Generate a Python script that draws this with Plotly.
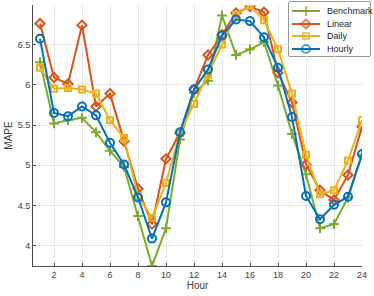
import plotly.graph_objects as go

hours = list(range(1, 25))
benchmark = [6.28, 5.52, 5.56, 5.59, 5.41, 5.18, 4.98, 4.37, 3.75, 4.22, 5.32, 5.90,
             6.05, 6.86, 6.37, 6.44, 6.53, 5.99, 5.39, 4.89, 4.22, 4.27, 4.60, 5.13]
linear = [6.76, 6.09, 6.01, 6.74, 5.73, 5.89, 5.30, 4.71, 4.27, 5.08, 5.40, 5.94,
          6.37, 6.62, 6.89, 6.97, 6.90, 6.15, 5.78, 5.01, 4.69, 4.57, 4.88, 5.48]
daily = [6.21, 5.95, 5.96, 5.94, 5.89, 5.56, 5.34, 4.62, 4.35, 4.78, 5.40, 5.76,
         6.12, 6.50, 6.87, 6.98, 6.80, 6.44, 5.89, 5.13, 4.64, 4.69, 5.06, 5.56]
hourly = [6.57, 5.65, 5.61, 5.73, 5.62, 5.28, 5.01, 4.60, 4.09, 4.54, 5.41, 5.94,
          6.19, 6.61, 6.81, 6.79, 6.59, 6.21, 5.60, 4.62, 4.33, 4.51, 4.61, 5.14]

names = ["Benchmark", "Linear", "Daily", "Hourly"]
series = [benchmark, linear, daily, hourly]
colors = ["#77AC30", "#D95319", "#EDB120", "#0072BD"]
symbols = ["cross-thin", "diamond-open", "square-open", "circle-open"]
sizes = [7, 7, 6, 8]

xticks = [2, 4, 6, 8, 10, 12, 14, 16, 18, 20, 22, 24]
yticks = [4, 4.5, 5, 5.5, 6, 6.5]
ytick_text = ["4", "4.5", "5", "5.5", "6", "6.5"]

W, H = 374, 296
FONT = "Liberation Sans, Arial, sans-serif"

fig = go.Figure()
for n, s, c, sym, sz in zip(names, series, colors, symbols, sizes):
    fig.add_trace(go.Scatter(
        x=hours, y=s, name=n, mode="lines+markers", showlegend=False,
        line=dict(color=c, width=2),
        marker=dict(symbol=sym, size=sz, color=c, line=dict(color=c, width=2)),
        xaxis="x", yaxis="y",
    ))

# manual legend drawn in its own small axis (units: pixels inside the legend box)
row_y = [9, 22, 34, 47]
for n, c, sym, sz, ry in zip(names, colors, symbols, sizes, row_y):
    fig.add_trace(go.Scatter(
        x=[3, 17, 31], y=[ry, ry, ry], mode="lines+markers", showlegend=False,
        line=dict(color=c, width=2),
        marker=dict(symbol=sym, size=[0, sz, 0], color=c, line=dict(color=c, width=2)),
        xaxis="x2", yaxis="y2", hoverinfo="skip",
    ))
    fig.add_annotation(x=35.5, y=ry, xref="x2", yref="y2", text=n, showarrow=False,
                       xanchor="left", yanchor="middle",
                       font=dict(family=FONT, size=9, color="#262626"))

fig.add_shape(type="rect", xref="x2 domain", yref="y2 domain", x0=0, x1=1, y0=0, y1=1,
              line=dict(color="#333333", width=1), fillcolor="rgba(255,255,255,0)", layer="below")

axis_common = dict(
    showgrid=True, gridcolor="#E6E6E6", gridwidth=1,
    showline=True, linecolor="#4D4D4D", linewidth=1,
    ticks="inside", ticklen=3, tickcolor="#4D4D4D",
    tickfont=dict(family=FONT, size=9, color="#404040"),
    zeroline=False,
)

px0, px1, py0, py1 = 33, 362, 5, 266
lx0, lx1, ly0, ly1 = 289, 370, 2, 56

fig.update_layout(
    width=W, height=H,
    margin=dict(l=0, r=0, t=0, b=0, autoexpand=False),
    paper_bgcolor="white", plot_bgcolor="white",
    font=dict(family=FONT, size=10, color="#404040"),
    xaxis=dict(domain=[px0 / W, px1 / W], range=[0.5, 24], tickvals=xticks,
               title=dict(text="Hour", standoff=2, font=dict(size=10)), **axis_common),
    yaxis=dict(domain=[1 - py1 / H, 1 - py0 / H], range=[3.75, 6.99], tickvals=yticks,
               ticktext=ytick_text, title=dict(text="MAPE", standoff=3, font=dict(size=10)),
               **axis_common),
    xaxis2=dict(domain=[lx0 / W, lx1 / W], range=[0, lx1 - lx0], anchor="y2",
                visible=False, fixedrange=True),
    yaxis2=dict(domain=[1 - ly1 / H, 1 - ly0 / H], range=[ly1 - ly0, 0], anchor="x2",
                visible=False, fixedrange=True),
    showlegend=False,
)

fig.write_html(
    "out.html",
    config={"displayModeBar": False},
    post_script="document.body.style.margin='0';document.body.style.overflow='hidden';",
)
